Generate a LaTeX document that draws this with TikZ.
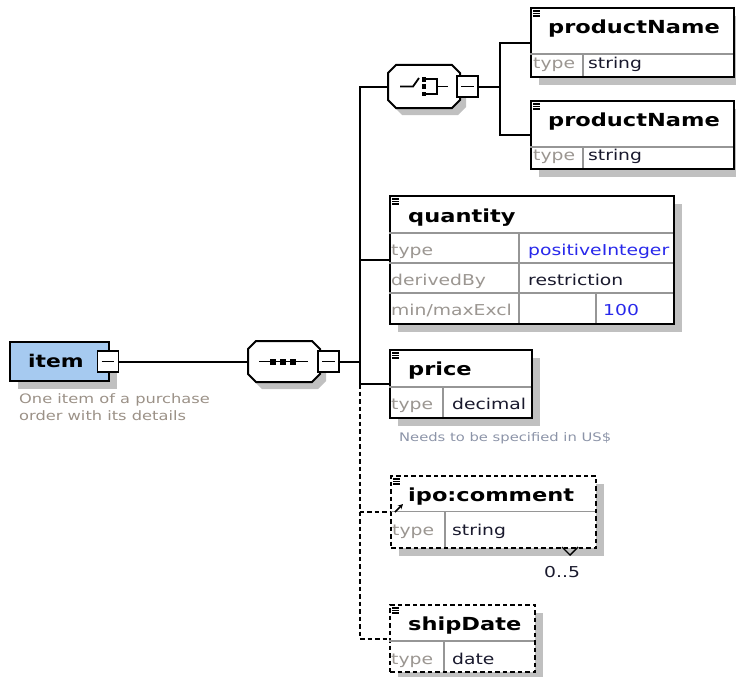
\documentclass[tikz,border=0pt]{standalone}
\usepackage{fontspec}
\setmainfont{DejaVu Sans}[FakeStretch=1.25]
\usetikzlibrary{shadows,arrows.meta}

\definecolor{itemblue}{RGB}{166,202,240}
\definecolor{shadegray}{RGB}{192,192,192}
\definecolor{rulegray}{RGB}{150,150,150}
\definecolor{labelgray}{RGB}{155,150,145}
\definecolor{valuedark}{RGB}{25,25,45}
\definecolor{valueblue}{RGB}{40,40,235}
\definecolor{notetan}{RGB}{155,145,135}
\definecolor{noteblue}{RGB}{140,148,168}

\tikzset{
  boxshadow/.style={drop shadow={shadow xshift=8pt,shadow yshift=-8pt,fill=shadegray,opacity=1}},
  elem/.style={draw=black,line width=2.2pt,fill=white,inner sep=0pt,anchor=north west,boxshadow},
  optelem/.style={elem,line width=2pt,dash pattern=on 4.5pt off 3pt},
  anchorbox/.style={draw=none,inner sep=0pt},
  octline/.style={draw=black,line width=2pt,fill=white,line join=miter},
  minusbox/.style={draw=black,line width=1.8pt,fill=white,minimum size=21pt,inner sep=0pt},
  minusbar/.style={line width=1.7pt},
  conn/.style={line width=2pt,draw=black},
  optconn/.style={conn,line width=2pt,dash pattern=on 4.5pt off 3pt},
  divider/.style={draw=rulegray,line width=1.3pt},
  icon/.style={line width=1.2pt},
  symb/.style={line width=1.8pt},
  hd/.style={font=\bfseries\fontsize{18}{20}\selectfont,anchor=base west,inner sep=0pt},
  lbl/.style={font=\fontsize{15}{17}\selectfont,text=labelgray,anchor=base west,inner sep=0pt},
  val/.style={font=\fontsize{15}{17}\selectfont,text=valuedark,anchor=base west,inner sep=0pt},
  bval/.style={val,text=valueblue},
  note/.style={anchor=base west,inner sep=0pt},
}

% three-line documentation marker at the top left of an element header
\newcommand\hdicon[2]{%
  \draw[icon] (#1+3,#2+4) -- (#1+10,#2+4);
  \draw[icon] (#1+3,#2+6.5) -- (#1+10,#2+6.5);
  \draw[icon] (#1+3,#2+9) -- (#1+10,#2+9);
}
% octagonal compositor outline with its shadow: left, top, right, bottom
\newcommand\octagon[4]{%
  \fill[shadegray,shift={(6,7)}] (#1,#2+8) -- (#1+8,#2) -- (#3-8,#2) -- (#3,#2+8)
     -- (#3,#4-8) -- (#3-8,#4) -- (#1+8,#4) -- (#1,#4-8) -- cycle;
  \draw[octline] (#1,#2+8) -- (#1+8,#2) -- (#3-8,#2) -- (#3,#2+8)
     -- (#3,#4-8) -- (#3-8,#4) -- (#1+8,#4) -- (#1,#4-8) -- cycle;
}

\begin{document}
\begin{tikzpicture}[x=1pt,y=-1pt]
\useasboundingbox (0,0) rectangle (736,677);

% ---- root element: item ----
\node[draw=black,line width=2.2pt,fill=itemblue,minimum width=99pt,minimum height=39pt,
      inner sep=0pt,anchor=north west,boxshadow] (item) at (9,341) {};
\node[font=\bfseries\fontsize{17.5}{20}\selectfont,anchor=base west,inner sep=0pt] (itemtxt) at (28,367) {item};
\node[minusbox] (itemMinus) at (108,361.5) {};
\draw[minusbar] ([xshift=5pt]itemMinus.west) -- ([xshift=-5pt]itemMinus.east);
\node[note,text=notetan,font=\fontsize{13}{15}\selectfont] (itemdoc1) at (19,403.5) {One item of a purchase};
\node[note,text=notetan,font=\fontsize{13}{15}\selectfont] (itemdoc2) at (19,420.5) {order with its details};

% ---- sequence compositor ----
\octagon{248}{341}{320}{382}
\node[anchorbox,minimum width=72pt,minimum height=41pt] (seq) at (284,361.5) {};
\draw[symb] (259,361.5) -- (308,361.5);
\fill (270,358.5) rectangle (276,364.5);
\fill (280,358.5) rectangle (286,364.5);
\fill (290,358.5) rectangle (296,364.5);
\node[minusbox] (seqMinus) at (328.5,361.5) {};
\draw[minusbar] ([xshift=5pt]seqMinus.west) -- ([xshift=-5pt]seqMinus.east);
\coordinate (bus) at (359.5,361.5);

% ---- choice compositor ----
\octagon{388}{65}{460}{108}
\node[anchorbox,minimum width=72pt,minimum height=43pt] (choice) at (424,86.5) {};
\draw[symb] (400,86.5) -- (413,86.5) -- (419,78);
\fill (421.5,77) rectangle (426,81.5);
\fill (421.5,84.3) rectangle (426,88.8);
\fill (421.5,91.5) rectangle (426,96);
\draw[symb] (426,79.2) -- (437,79.2) -- (437,93.8) -- (426,93.8);
\draw[symb] (437,86.5) -- (448,86.5);
\node[minusbox] (choiceMinus) at (467.5,86.5) {};
\draw[minusbar] ([xshift=5pt]choiceMinus.west) -- ([xshift=-5pt]choiceMinus.east);
\coordinate (fork) at (499.5,86.5);

% ---- productName (first) ----
\node[elem,minimum width=203pt,minimum height=69pt] (pnA) at (530,7) {};
\draw[divider] (530,54) -- (733,54);
\draw[divider] (583,54) -- (583,76);
\hdicon{530}{7}
\node[hd] (pnAh) at (548,33.5) {productName};
\node[lbl] (pnAl) at (533,68) {type};
\node[val] (pnAv) at (588,68) {string};

% ---- productName (second) ----
\node[elem,minimum width=203pt,minimum height=68pt] (pnB) at (530,100) {};
\draw[divider] (530,147) -- (733,147);
\draw[divider] (583,147) -- (583,168);
\hdicon{530}{100}
\node[hd] (pnBh) at (548,126.5) {productName};
\node[lbl] (pnBl) at (533,160.5) {type};
\node[val] (pnBv) at (588,160.5) {string};

% ---- quantity ----
\node[elem,minimum width=284pt,minimum height=128pt] (qty) at (389,195) {};
\draw[divider] (389,233) -- (673,233);
\draw[divider] (389,263) -- (673,263);
\draw[divider] (389,293) -- (673,293);
\draw[divider] (519,233) -- (519,323);
\draw[divider] (596,293) -- (596,323);
\hdicon{389}{195}
\node[hd] (qtyh) at (408,222) {quantity};
\node[lbl] (qtyl1) at (391,255.5) {type};
\node[bval] (qtyv1) at (528,255.5) {positiveInteger};
\node[lbl] (qtyl2) at (391,285.5) {derivedBy};
\node[val] (qtyv2) at (528,285.5) {restriction};
\node[lbl] (qtyl3) at (391,315.5) {min/maxExcl};
\node[bval] (qtyv3) at (603,315.5) {100};

% ---- price ----
\node[elem,minimum width=142pt,minimum height=68pt] (price) at (389,349) {};
\draw[divider] (389,387) -- (531,387);
\draw[divider] (443,387) -- (443,417);
\hdicon{389}{349}
\node[hd] (priceh) at (408,375.5) {price};
\node[lbl] (pricel) at (391,409.5) {type};
\node[val] (pricev) at (452,409.5) {decimal};
\node[note,text=noteblue,font=\fontsize{11.8}{14}\selectfont] (pricedoc) at (399,441.5) {Needs to be specified in US\$};

% ---- ipo:comment (optional reference) ----
\node[optelem,minimum width=205pt,minimum height=72pt] (comment) at (390,475) {};
\draw[divider] (390,511.5) -- (595,511.5);
\draw[divider] (445,511.5) -- (445,547);
\hdicon{390}{475}
\node[hd] (commenth) at (408,501.5) {ipo:comment};
\node[lbl] (commentl) at (392,535) {type};
\node[val] (commentv) at (452,535) {string};
\draw[line width=1.4pt] (562,547) -- (570,555) -- (578,547);
\node[val] (commentocc) at (544,577.5) {0..5};

% ---- shipDate (optional) ----
\node[optelem,minimum width=145pt,minimum height=67pt] (ship) at (389,604) {};
\draw[divider] (389,641) -- (534,641);
\draw[divider] (444,641) -- (444,671);
\hdicon{389}{604}
\node[hd] (shiph) at (408,630.5) {shipDate};
\node[lbl] (shipl) at (391,664.5) {type};
\node[val] (shipv) at (452,664.5) {date};

% ---- connectors ----
\draw[conn] (itemMinus.east) -- (seq.west);
\draw[conn] (seqMinus.east) -- (bus);
\draw[conn] (choice.west) -| (bus) |- (price.west);
\draw[conn] (qty.west -| bus) -- (qty.west);
\draw[conn] (choiceMinus.east) -- (fork);
\draw[conn] (pnA.west) -| (fork) |- (pnB.west);
\draw[optconn] (price.west -| bus) |- (ship.west);
\draw[optconn] (comment.west -| bus) -- (comment.west);
\draw[line width=1.6pt,-{Stealth[length=5pt,width=5pt]}] ([xshift=5pt]comment.west) -- ++(8,-8);
\end{tikzpicture}
\end{document}
